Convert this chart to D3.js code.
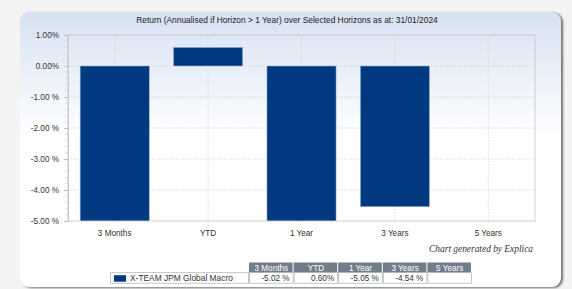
<!DOCTYPE html>
<html>
<head>
<meta charset="utf-8">
<style>
  body { margin: 0; background: #f4f4f4; font-family: "Liberation Sans", Arial, sans-serif; }
  svg { display: block; }
</style>
<title>Return over Selected Horizons</title>
</head>
<body>
<svg id="chart"></svg>
<script src="https://cdn.jsdelivr.net/npm/d3@7"></script>
<script>

var categories = ["3 Months", "YTD", "1 Year", "3 Years", "5 Years"];
var returns = [-5.02, 0.60, -5.05, -4.54, null];
var tableLabels = ["-5.02 %", "0.60%", "-5.05 %", "-4.54 %", ""];
var yTicks = [1, 0, -1, -2, -3, -4, -5];
var yTickLabels = ["1.00%", "0.00%", "-1.00 %", "-2.00 %", "-3.00 %", "-4.00 %", "-5.00 %"];
var seriesName = "X-TEAM JPM Global Macro";
var title = "Return (Annualised if Horizon > 1 Year) over Selected Horizons as at: 31/01/2024";

var W = 572, H = 289;
var plot = {left: 68, right: 535, top: 35, bottom: 221};
var navy = "#00397f";

var svg = d3.select("#chart").attr("width", W).attr("height", H);
var defs = svg.append("defs");

var grad = defs.append("linearGradient").attr("id", "cardbg")
    .attr("x1", 0).attr("y1", 0).attr("x2", 0).attr("y2", 1);
grad.append("stop").attr("offset", "0%").attr("stop-color", "#d6e2f2");
grad.append("stop").attr("offset", "45%").attr("stop-color", "#ffffff");
grad.append("stop").attr("offset", "100%").attr("stop-color", "#ffffff");

defs.append("filter").attr("id", "blur")
  .append("feGaussianBlur").attr("stdDeviation", 1.1);

defs.append("clipPath").attr("id", "plotclip")
  .append("rect")
    .attr("x", plot.left).attr("y", plot.top)
    .attr("width", plot.right - plot.left).attr("height", plot.bottom - plot.top);

// card
svg.append("rect")
    .attr("x", 22).attr("y", 13).attr("width", 541).attr("height", 275)
    .attr("rx", 9).attr("fill", "#707070").attr("filter", "url(#blur)");
svg.append("rect")
    .attr("x", 20).attr("y", 12).attr("width", 541).attr("height", 275)
    .attr("rx", 9).attr("fill", "url(#cardbg)");

svg.append("text")
    .attr("x", 287).attr("y", 23)
    .attr("text-anchor", "middle")
    .attr("font-size", 8.4).attr("fill", "#222")
    .text(title);

var x = d3.scaleBand()
    .domain(categories)
    .range([plot.left, plot.right])
    .paddingInner(0.26)
    .paddingOuter(0.13);

var y = d3.scaleLinear()
    .domain([-5, 1])
    .range([plot.bottom, plot.top]);

// grid
var grid = svg.append("g");
grid.selectAll(".hg")
  .data(yTicks.slice(1, -1))
  .enter().append("line")
    .attr("x1", plot.left).attr("x2", plot.right)
    .attr("y1", d => y(d)).attr("y2", d => y(d))
    .attr("stroke", "#cfcfcf").attr("stroke-width", 0.8)
    .attr("stroke-dasharray", "1.5,1.5");
grid.selectAll(".vg")
  .data(categories)
  .enter().append("line")
    .attr("x1", d => x(d) + x.bandwidth() / 2).attr("x2", d => x(d) + x.bandwidth() / 2)
    .attr("y1", plot.top).attr("y2", plot.bottom + 3)
    .attr("stroke", "#cfcfcf").attr("stroke-width", 0.8)
    .attr("stroke-dasharray", "1.5,1.5");

// bars
svg.append("g")
    .attr("clip-path", "url(#plotclip)")
  .selectAll("rect")
  .data(returns.map((v, i) => ({cat: categories[i], v: v})).filter(d => d.v != null))
  .enter().append("rect")
    .attr("x", d => x(d.cat))
    .attr("width", x.bandwidth())
    .attr("y", d => y(Math.max(0, d.v)))
    .attr("height", d => Math.abs(y(d.v) - y(0)))
    .attr("fill", navy)
    .attr("stroke", "#9db3d6").attr("stroke-width", 0.6);

// plot border
svg.append("rect")
    .attr("x", plot.left).attr("y", plot.top)
    .attr("width", plot.right - plot.left).attr("height", plot.bottom - plot.top)
    .attr("fill", "none").attr("stroke", "#c9c9c9").attr("stroke-width", 0.9);

// y axis
var yAxis = d3.axisLeft(y)
    .tickValues(yTicks)
    .tickSize(4)
    .tickPadding(5)
    .tickFormat((d, i) => yTickLabels[i]);
var ya = svg.append("g")
    .attr("transform", "translate(" + plot.left + ",0)")
    .call(yAxis);
ya.select(".domain").attr("stroke", "#c9c9c9");
ya.selectAll(".tick line").attr("stroke", "#bdbdbd");
ya.selectAll(".tick text")
    .attr("font-family", "Liberation Sans, Arial, sans-serif")
    .attr("font-size", 8.2).attr("fill", "#333");

// minor ticks
var minor = d3.range(-5, 1.0001, 0.2).filter(v => Math.abs(v - Math.round(v)) > 0.01);
svg.append("g").selectAll("line")
  .data(minor)
  .enter().append("line")
    .attr("x1", plot.left - 3).attr("x2", plot.left)
    .attr("y1", d => y(d)).attr("y2", d => y(d))
    .attr("stroke", "#d2d2d2").attr("stroke-width", 0.8);

// x labels
svg.append("g").selectAll("text")
  .data(categories)
  .enter().append("text")
    .attr("x", d => x(d) + x.bandwidth() / 2)
    .attr("y", 236)
    .attr("text-anchor", "middle")
    .attr("font-size", 8.2).attr("fill", "#333")
    .text(d => d);

svg.append("text")
    .attr("x", 533).attr("y", 252)
    .attr("text-anchor", "end")
    .attr("font-family", "Liberation Serif, Times New Roman, serif")
    .attr("font-style", "italic")
    .attr("font-size", 9.4).attr("fill", "#333")
    .text("Chart generated by Explica");

// data table
var cellX = d3.scaleBand().domain(categories).range([249, 472]);
var headY = 262.5, headH = 10.2, rowY = 272.7, rowH = 10.5;

var head = svg.append("g").selectAll("g")
  .data(categories)
  .enter().append("g");
head.append("rect")
    .attr("x", d => cellX(d)).attr("y", headY)
    .attr("width", cellX.bandwidth() - 1).attr("height", headH)
    .attr("fill", "#717d8a");
head.append("text")
    .attr("x", d => cellX(d) + cellX.bandwidth() / 2)
    .attr("y", headY + 8)
    .attr("text-anchor", "middle")
    .attr("font-size", 8.2).attr("fill", "#fff")
    .text(d => d);

var row = svg.append("g").selectAll("g")
  .data(categories)
  .enter().append("g");
row.append("rect")
    .attr("x", d => cellX(d) + 0.5).attr("y", rowY)
    .attr("width", cellX.bandwidth() - 1).attr("height", rowH)
    .attr("fill", "#fff").attr("stroke", "#a9b0b7").attr("stroke-width", 0.7);
row.append("text")
    .attr("x", d => cellX(d) + cellX.bandwidth() - 4)
    .attr("y", rowY + 8)
    .attr("text-anchor", "end")
    .attr("font-size", 8.2).attr("fill", "#333")
    .text((d, i) => tableLabels[i]);

svg.append("rect")
    .attr("x", 110.5).attr("y", rowY)
    .attr("width", 138).attr("height", rowH)
    .attr("fill", "#fff").attr("stroke", "#a9b0b7").attr("stroke-width", 0.7);
svg.append("rect")
    .attr("x", 114).attr("y", rowY + 2.5)
    .attr("width", 12).attr("height", 6.5)
    .attr("fill", navy);
svg.append("text")
    .attr("x", 130).attr("y", rowY + 8)
    .attr("font-size", 8.4).attr("fill", "#333")
    .text(seriesName);

</script>
</body>
</html>
